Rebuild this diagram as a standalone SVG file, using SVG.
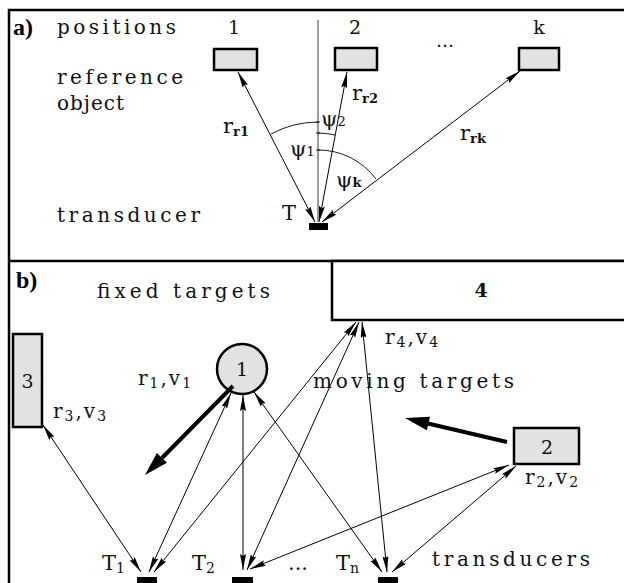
<svg xmlns="http://www.w3.org/2000/svg" width="624" height="583" viewBox="0 0 624 583">
<defs>
<marker id="ah" viewBox="0 0 16 6" refX="16" refY="3" markerWidth="16" markerHeight="6" markerUnits="userSpaceOnUse" orient="auto-start-reverse"><path d="M0,0 L16,3 L0,6 L2,3 z" fill="#000"/></marker>
</defs>
<style>
.t{font-family:"DejaVu Serif","Liberation Serif",serif;font-size:20px;fill:#111}
.lb{font-family:"Liberation Serif","DejaVu Serif",serif;font-weight:bold;font-size:24px;fill:#000}
.v{font-family:"DejaVu Serif","Liberation Serif",serif;font-size:21px;fill:#111}
.rv{font-family:"DejaVu Serif","Liberation Serif",serif;font-size:20px;fill:#111;letter-spacing:2px}
.s{font-family:"DejaVu Serif","Liberation Serif",serif;font-size:13px;font-weight:bold;fill:#111}
.n{font-family:"DejaVu Serif","Liberation Serif",serif;font-size:19px;fill:#111;text-anchor:middle}
.ln{stroke:#000;stroke-width:1;fill:none;marker-start:url(#ah);marker-end:url(#ah)}
.box{fill:#e2e2e2;stroke:#000;stroke-width:2.5}
.frame{stroke:#000;stroke-width:2.5;fill:none}
.arc{stroke:#000;stroke-width:0.9;fill:none}
.tr{fill:#000}
</style>
<rect width="624" height="583" fill="#fff"/>
<g id="frames">
<path class="frame" d="M624,10 H9 V583"/>
<path class="frame" d="M9,261 H624"/>
</g>
<g id="panel-a-labels">
<text class="lb" x="13" y="35">a)</text>
<text class="t" x="57" y="34" textLength="119" lengthAdjust="spacing">positions</text>
<text class="t" x="57" y="84" textLength="126" lengthAdjust="spacing">reference</text>
<text class="t" x="57" y="110" textLength="67" lengthAdjust="spacing">object</text>
<text class="t" x="57" y="222" textLength="143" lengthAdjust="spacing">transducer</text>
<text class="n" x="234" y="34">1</text>
<text class="n" x="355" y="34">2</text>
<text class="n" x="539" y="34">k</text>
<text class="n" x="445" y="47">...</text>
</g>
<g id="ref1"><rect class="box" x="214" y="49" width="43" height="21"/></g>
<g id="ref2"><rect class="box" x="335" y="48" width="42" height="22"/></g>
<g id="refk"><rect class="box" x="519" y="48" width="40" height="22"/></g>
<g id="transducer-a"><rect class="tr" x="309" y="223" width="19" height="7"/><text class="v" x="282" y="220" font-size="22">T</text></g>
<g id="connectors-a">
<line x1="318" y1="20" x2="318" y2="222" stroke="#000" stroke-width="0.8"/>
<line class="ln" x1="238" y1="72" x2="315" y2="222"/>
<line class="ln" x1="347" y1="72" x2="319" y2="222"/>
<line class="ln" x1="520" y1="71" x2="322" y2="222"/>
<path class="arc" d="M271,134 A100,100 0 0 1 318,122"/>
<path class="arc" d="M318,133 A89,89 0 0 1 335,135"/>
<path class="arc" d="M318,150 A72,72 0 0 1 376,179"/>
<path class="arc" d="M316,122 h4 M316,133 h4 M316,150 h4"/>
</g>
<g id="angle-labels">
<text class="v" x="223" y="133">r<tspan class="s" dy="3">r1</tspan></text>
<text class="v" x="352" y="100">r<tspan class="s" dy="3">r2</tspan></text>
<text class="v" x="460" y="140">r<tspan class="s" dy="3">rk</tspan></text>
<text class="v" x="290" y="156" font-size="18">ψ<tspan font-size="13">1</tspan></text>
<text class="v" x="321" y="126" font-size="18">ψ<tspan font-size="13">2</tspan></text>
<text class="v" x="336" y="187" font-size="18">ψ<tspan font-size="13" font-weight="bold">k</tspan></text>
</g>
<g id="panel-b-labels">
<text class="lb" x="16" y="288">b)</text>
<text class="t" x="97" y="298" textLength="173" lengthAdjust="spacing">fixed targets</text>
<text class="t" x="313" y="388" textLength="201" lengthAdjust="spacing">moving targets</text>
<text class="t" x="432" y="566" textLength="158" lengthAdjust="spacing">transducers</text>
<text class="rv" x="138" y="385">r<tspan font-size="14" dy="3">1</tspan><tspan dy="-3">,v</tspan><tspan font-size="14" dy="3">1</tspan></text>
<text class="rv" x="53" y="418">r<tspan font-size="14" dy="3">3</tspan><tspan dy="-3">,v</tspan><tspan font-size="14" dy="3">3</tspan></text>
<text class="rv" x="385" y="344">r<tspan font-size="14" dy="3">4</tspan><tspan dy="-3">,v</tspan><tspan font-size="14" dy="3">4</tspan></text>
<text class="rv" x="525" y="484">r<tspan font-size="14" dy="3">2</tspan><tspan dy="-3">,v</tspan><tspan font-size="14" dy="3">2</tspan></text>
</g>
<g id="target3"><rect class="box" x="13" y="334" width="29" height="93"/><text class="n" x="27.5" y="388" font-size="22">3</text></g>
<g id="target1"><circle class="box" cx="242" cy="369" r="25"/><text class="n" x="242" y="376" font-size="21">1</text></g>
<g id="target2"><rect class="box" x="514" y="428" width="65" height="36"/><text class="n" x="547" y="454" font-size="22">2</text></g>
<g id="target4"><rect x="332" y="261" width="300" height="59" fill="#fff" stroke="#000" stroke-width="2.5"/><text class="n" x="481" y="297" font-size="20" font-weight="bold">4</text></g>
<g id="T1"><rect class="tr" x="137" y="577" width="20" height="7"/><text class="v" x="102" y="570">T<tspan font-size="14" dy="3">1</tspan></text></g>
<g id="T2"><rect class="tr" x="232" y="577" width="21" height="7"/><text class="v" x="192" y="570">T<tspan font-size="14" dy="3">2</tspan></text></g>
<g id="dots-b"><text class="v" x="288" y="570">...</text></g>
<g id="Tn"><rect class="tr" x="378" y="577" width="20" height="7"/><text class="v" x="336" y="570">T<tspan font-size="14" dy="3">n</tspan></text></g>
<g id="connectors-b">
<line class="ln" x1="43" y1="425" x2="141" y2="572"/>
<line class="ln" x1="231" y1="393" x2="149" y2="572"/>
<line class="ln" x1="356" y1="322" x2="154" y2="572"/>
<line class="ln" x1="243" y1="395" x2="243" y2="570"/>
<line class="ln" x1="359" y1="322" x2="247" y2="570"/>
<line class="ln" x1="509" y1="465" x2="250" y2="569"/>
<line class="ln" x1="254" y1="392" x2="382" y2="572"/>
<line class="ln" x1="362" y1="322" x2="387" y2="572"/>
<line class="ln" x1="516" y1="466" x2="392" y2="572"/>
<line x1="233" y1="386" x2="162" y2="458" stroke="#000" stroke-width="4"/>
<polygon points="145,475 166.9,462.8 156.9,453" fill="#000"/>
<line x1="507" y1="442" x2="428" y2="423.5" stroke="#000" stroke-width="4"/>
<polygon points="405,418 430,416.7 426.8,430.3" fill="#000"/>
</g>
</svg>
